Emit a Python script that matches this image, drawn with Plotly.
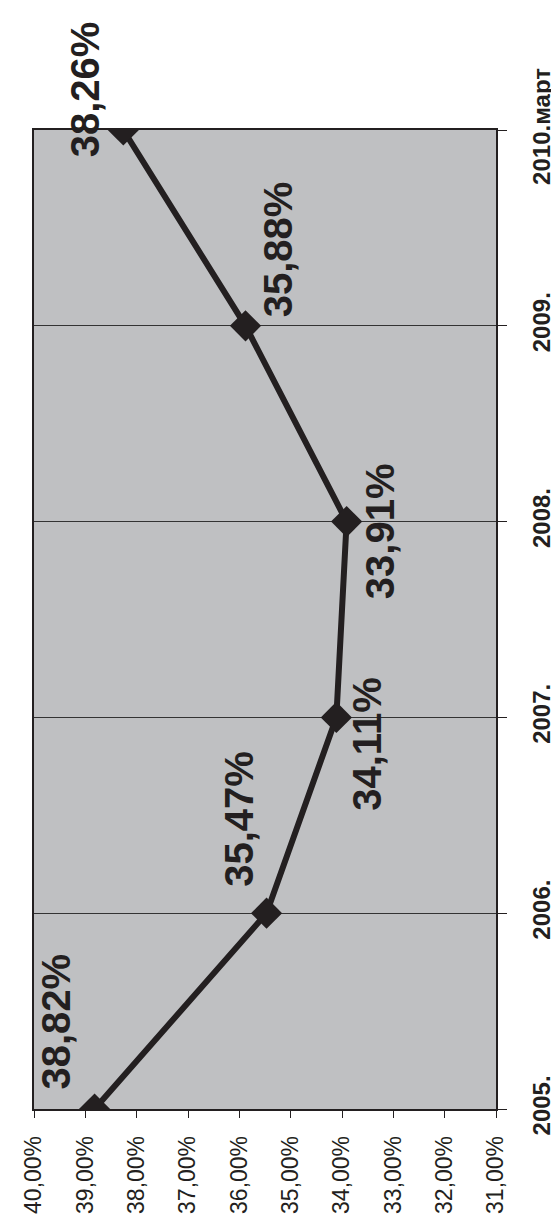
import plotly.graph_objects as go

categories = ["2005.", "2006.", "2007.", "2008.", "2009.", "2010.март"]
values = [38.82, 35.47, 34.11, 33.91, 35.88, 38.26]
value_labels = ["38,82%", "35,47%", "34,11%", "33,91%", "35,88%", "38,26%"]
pct_ticks = [40, 39, 38, 37, 36, 35, 34, 33, 32, 31]
pct_tick_labels = ["40,00%", "39,00%", "38,00%", "37,00%", "36,00%",
                   "35,00%", "34,00%", "33,00%", "32,00%", "31,00%"]

# pixel offsets of each data label from its point (styling only)
label_shift_x = [-39, -27, 31, 33, 32, -38]
label_shift_y = [87, 94, -27, -10, 77, 41]

INK = "#231F20"
FONT = "Liberation Sans, Arial, sans-serif"

fig = go.Figure()
fig.add_trace(go.Scatter(
    x=values, y=categories, mode="lines+markers",
    line=dict(color=INK, width=6),
    marker=dict(symbol="diamond", size=24, color=INK),
    hoverinfo="skip", showlegend=False,
))

for i, (v, t, sx, sy) in enumerate(zip(values, value_labels, label_shift_x, label_shift_y)):
    fig.add_annotation(
        x=v, y=i, xref="x", yref="y", text="<b>" + t + "</b>",
        textangle=-90, showarrow=False, xanchor="center", yanchor="middle",
        xshift=sx, yshift=sy,
        font=dict(family=FONT, size=40, color=INK),
    )

fig.update_layout(
    width=559, height=1218,
    margin=dict(l=22, r=63, t=122, b=101),
    paper_bgcolor="white", plot_bgcolor="#BFC0C2",
    showlegend=False,
    xaxis=dict(
        range=[40, 31], tickmode="array", tickvals=pct_ticks, ticktext=pct_tick_labels,
        tickangle=-90, ticks="outside", ticklen=7, tickcolor=INK, tickwidth=1,
        showgrid=False, zeroline=False,
        showline=True, linecolor=INK, linewidth=1.5, mirror=True,
        ticklabelstandoff=9,
        tickfont=dict(family=FONT, size=23, color=INK),
    ),
    yaxis=dict(
        type="category", categoryorder="array", categoryarray=categories,
        range=[0, 5], side="right",
        tickangle=-90, ticks="outside", ticklen=9, tickcolor=INK, tickwidth=1,
        showgrid=True, gridcolor="#333333", gridwidth=1,
        showline=True, linecolor=INK, linewidth=1.5, mirror=True,
        ticklabelstandoff=14,
        tickfont=dict(family=FONT, size=24, color=INK, weight="bold"),
    ),
)

fig.write_html("out.html")
